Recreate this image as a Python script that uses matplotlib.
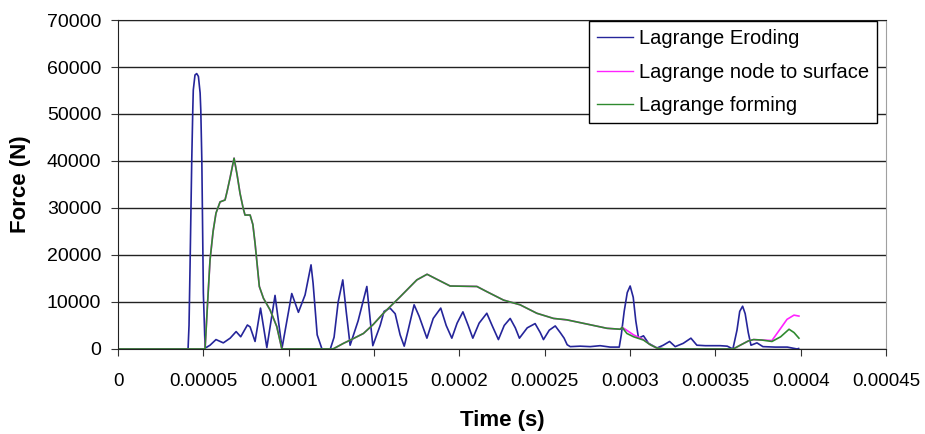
import numpy as np
import matplotlib
matplotlib.use("Agg")
import matplotlib.pyplot as plt

# time in microseconds, force in N
eroding_t = [0, 40.2, 41.0, 41.6, 42.2, 43.2, 43.8, 44.1, 45.1, 46.1, 47.1, 48.1, 48.5,
             49.1, 50.0, 51.0, 51.6,
             53.9, 57.4, 61.7, 65.7, 69.2, 71.9, 75.8, 77.4, 80.3, 83.5, 87.2, 92.0,
             96.1, 101.8, 105.7, 109.6, 113.1, 114.3, 116.7, 119.6, 124.3, 126.6,
             129.0, 131.7, 133.7, 136.0, 140.7, 145.8, 149.3, 153.6, 155.9, 159.4,
             162.4, 165.3, 167.7, 170.0, 173.5, 176.4, 181.0, 184.7, 189.1, 192.3,
             195.6, 198.7, 202.1, 205.2, 207.9, 211.6, 216.1, 219.2, 222.9, 226.3,
             229.8, 232.8, 235.2, 239.8, 244.4, 247.4, 249.3, 252.7, 256.2, 259.1,
             261.4, 263.2, 265.0, 270.8, 276.7, 282.5, 288.4, 293.7, 294.9, 296.6,
             298.4, 300.1, 301.9, 303.4, 305.0, 307.9, 310.9, 315.8, 319.5, 323.2,
             326.5, 331.2, 335.7, 339.2, 344.1, 352.9, 357.0, 360.3, 362.7, 364.3,
             366.0, 367.5, 369.3, 370.9, 374.4, 377.9, 385.1, 392.2, 397.9, 398.8]
eroding_f = [0, 0, -300, 5000, 17500, 40200, 50800, 55100, 58300, 58600, 58000, 54500, 50800,
             40200, 11900, 500, 300,
             800, 2000, 1300, 2300, 3700, 2600, 5100, 4700, 1600, 8700, 300, 11400,
             200, 11800, 7800, 11500, 17900, 14000, 3000, -100, -100, 2500,
             10000, 14700, 8000, 800, 6000, 13300, 700, 5000, 8000, 8700,
             7500, 3000, 600, 4000, 9400, 7000, 2300, 6500, 8700, 5000,
             2300, 5500, 7900, 5000, 2300, 5500, 7600, 5000, 2000, 5000,
             6500, 4500, 2300, 4500, 5400, 3500, 2000, 4000, 4900, 3500,
             2300, 900, 500, 600, 500, 700, 400, 400, 3000, 8000,
             12000, 13400, 11000, 6000, 2300, 2800, 1200, 200, 800, 1600,
             500, 1200, 2300, 800, 700, 700, 600, 0, 4000, 8000,
             9100, 7500, 3500, 800, 1300, 500, 400, 400, 0, 100]

forming_t = [0, 51.0, 52.2, 53.9, 55.7, 57.4, 59.8, 62.7, 63.9, 65.7, 68.0, 69.8, 71.5,
             73.3, 74.4, 77.4, 79.0, 80.3, 82.8, 85.2, 89.1, 93.0, 96.0, 126.0,
             132.1, 137.8, 143.8, 149.5, 155.5, 165.3, 175.1, 181.1, 187.0, 194.6,
             210.3, 216.1, 225.9, 235.6, 245.4, 255.2, 263.0, 274.8, 286.5, 294.3,
             295.4, 298.2, 302.1, 307.9, 311.9, 315.8, 320.6, 360.5, 364.6, 369.3,
             372.4, 377.3, 383.2, 388.3, 393.2, 396.1, 399.0]
forming_f = [0, 0, 8000, 18900, 25000, 28900, 31300, 31700, 33500, 36500, 40600, 37000, 33100,
             30000, 28500, 28500, 26500, 22500, 13300, 10800, 8300, 4800, 0, 0,
             1200, 2200, 3300, 5200, 7600, 11100, 14700, 15900, 14800, 13400,
             13300, 12200, 10400, 9400, 7600, 6500, 6200, 5300, 4400, 4200,
             4600, 3300, 2600, 1900, 900, 200, 0, 0, 800, 1700,
             2000, 1900, 1600, 2600, 4200, 3500, 2300]

# node to surface sits under forming until ~0.000295 s
node_t = forming_t[:44] + [295.4, 297.2, 302.1, 307.9, 311.9, 315.8, 320.6, 360.5, 364.6,
                           369.3, 372.4, 377.3, 383.2, 388.3, 392.0, 396.1, 399.0]
node_f = forming_f[:44] + [4600, 4200, 3000, 2000, 900, 200, 0, 0, 800,
                           1700, 2000, 1900, 1800, 4400, 6300, 7200, 7000]

plt.rcParams['font.family'] = ['Liberation Sans', 'DejaVu Sans']

fig = plt.figure(figsize=(9.25, 4.34), dpi=100)
ax = fig.add_axes([0.1276, 0.1959, 0.8302, 0.7580])

ax.plot(np.array(eroding_t) * 1e-6, eroding_f, color='#25259a', lw=1.2, label='Lagrange Eroding')
ax.plot(np.array(node_t) * 1e-6, node_f, color='#ff22ff', lw=1.2, label='Lagrange node to surface')
ax.plot(np.array(forming_t) * 1e-6, forming_f, color='#2f8a2f', lw=1.2, label='Lagrange forming')

ax.set_xlim(0, 0.00045)
ax.set_ylim(0, 70000)
ax.set_xticks(np.arange(0, 0.000451, 0.00005))
ax.set_xticklabels(['0', '0.00005', '0.0001', '0.00015', '0.0002', '0.00025',
                    '0.0003', '0.00035', '0.0004', '0.00045'])
ax.set_yticks(np.arange(0, 70001, 10000))
ax.yaxis.grid(True, color='#222222', lw=1.0)
ax.set_axisbelow(True)
ax.tick_params(axis='x', direction='out', length=5, pad=12, labelsize=13.5, color='#333333')
ax.tick_params(axis='y', direction='out', length=5, pad=7, labelsize=14, color='#333333')

for s in ['left', 'bottom', 'top']:
    ax.spines[s].set_color('#222222')
ax.spines['right'].set_color('#a0a0a0')

ax.set_xlabel('Time (s)', fontsize=16, fontweight='bold', va='center')
ax.set_ylabel('Force (N)', fontsize=16, fontweight='bold', va='center')
ax.yaxis.set_label_coords(-0.1276, 0.5)
ax.xaxis.set_label_coords(0.5, -0.216)

leg = ax.legend(loc='upper right', bbox_to_anchor=(0.988, 0.997), fontsize=14.5,
                fancybox=False, framealpha=1, edgecolor='black', handlelength=1.75,
                borderaxespad=0, labelspacing=0.72, handletextpad=0.3, borderpad=0.4)
leg.get_frame().set_linewidth(1.0)
for h in leg.get_lines():
    h.set_linewidth(1.0)

fig.savefig('out.png', dpi=100)
